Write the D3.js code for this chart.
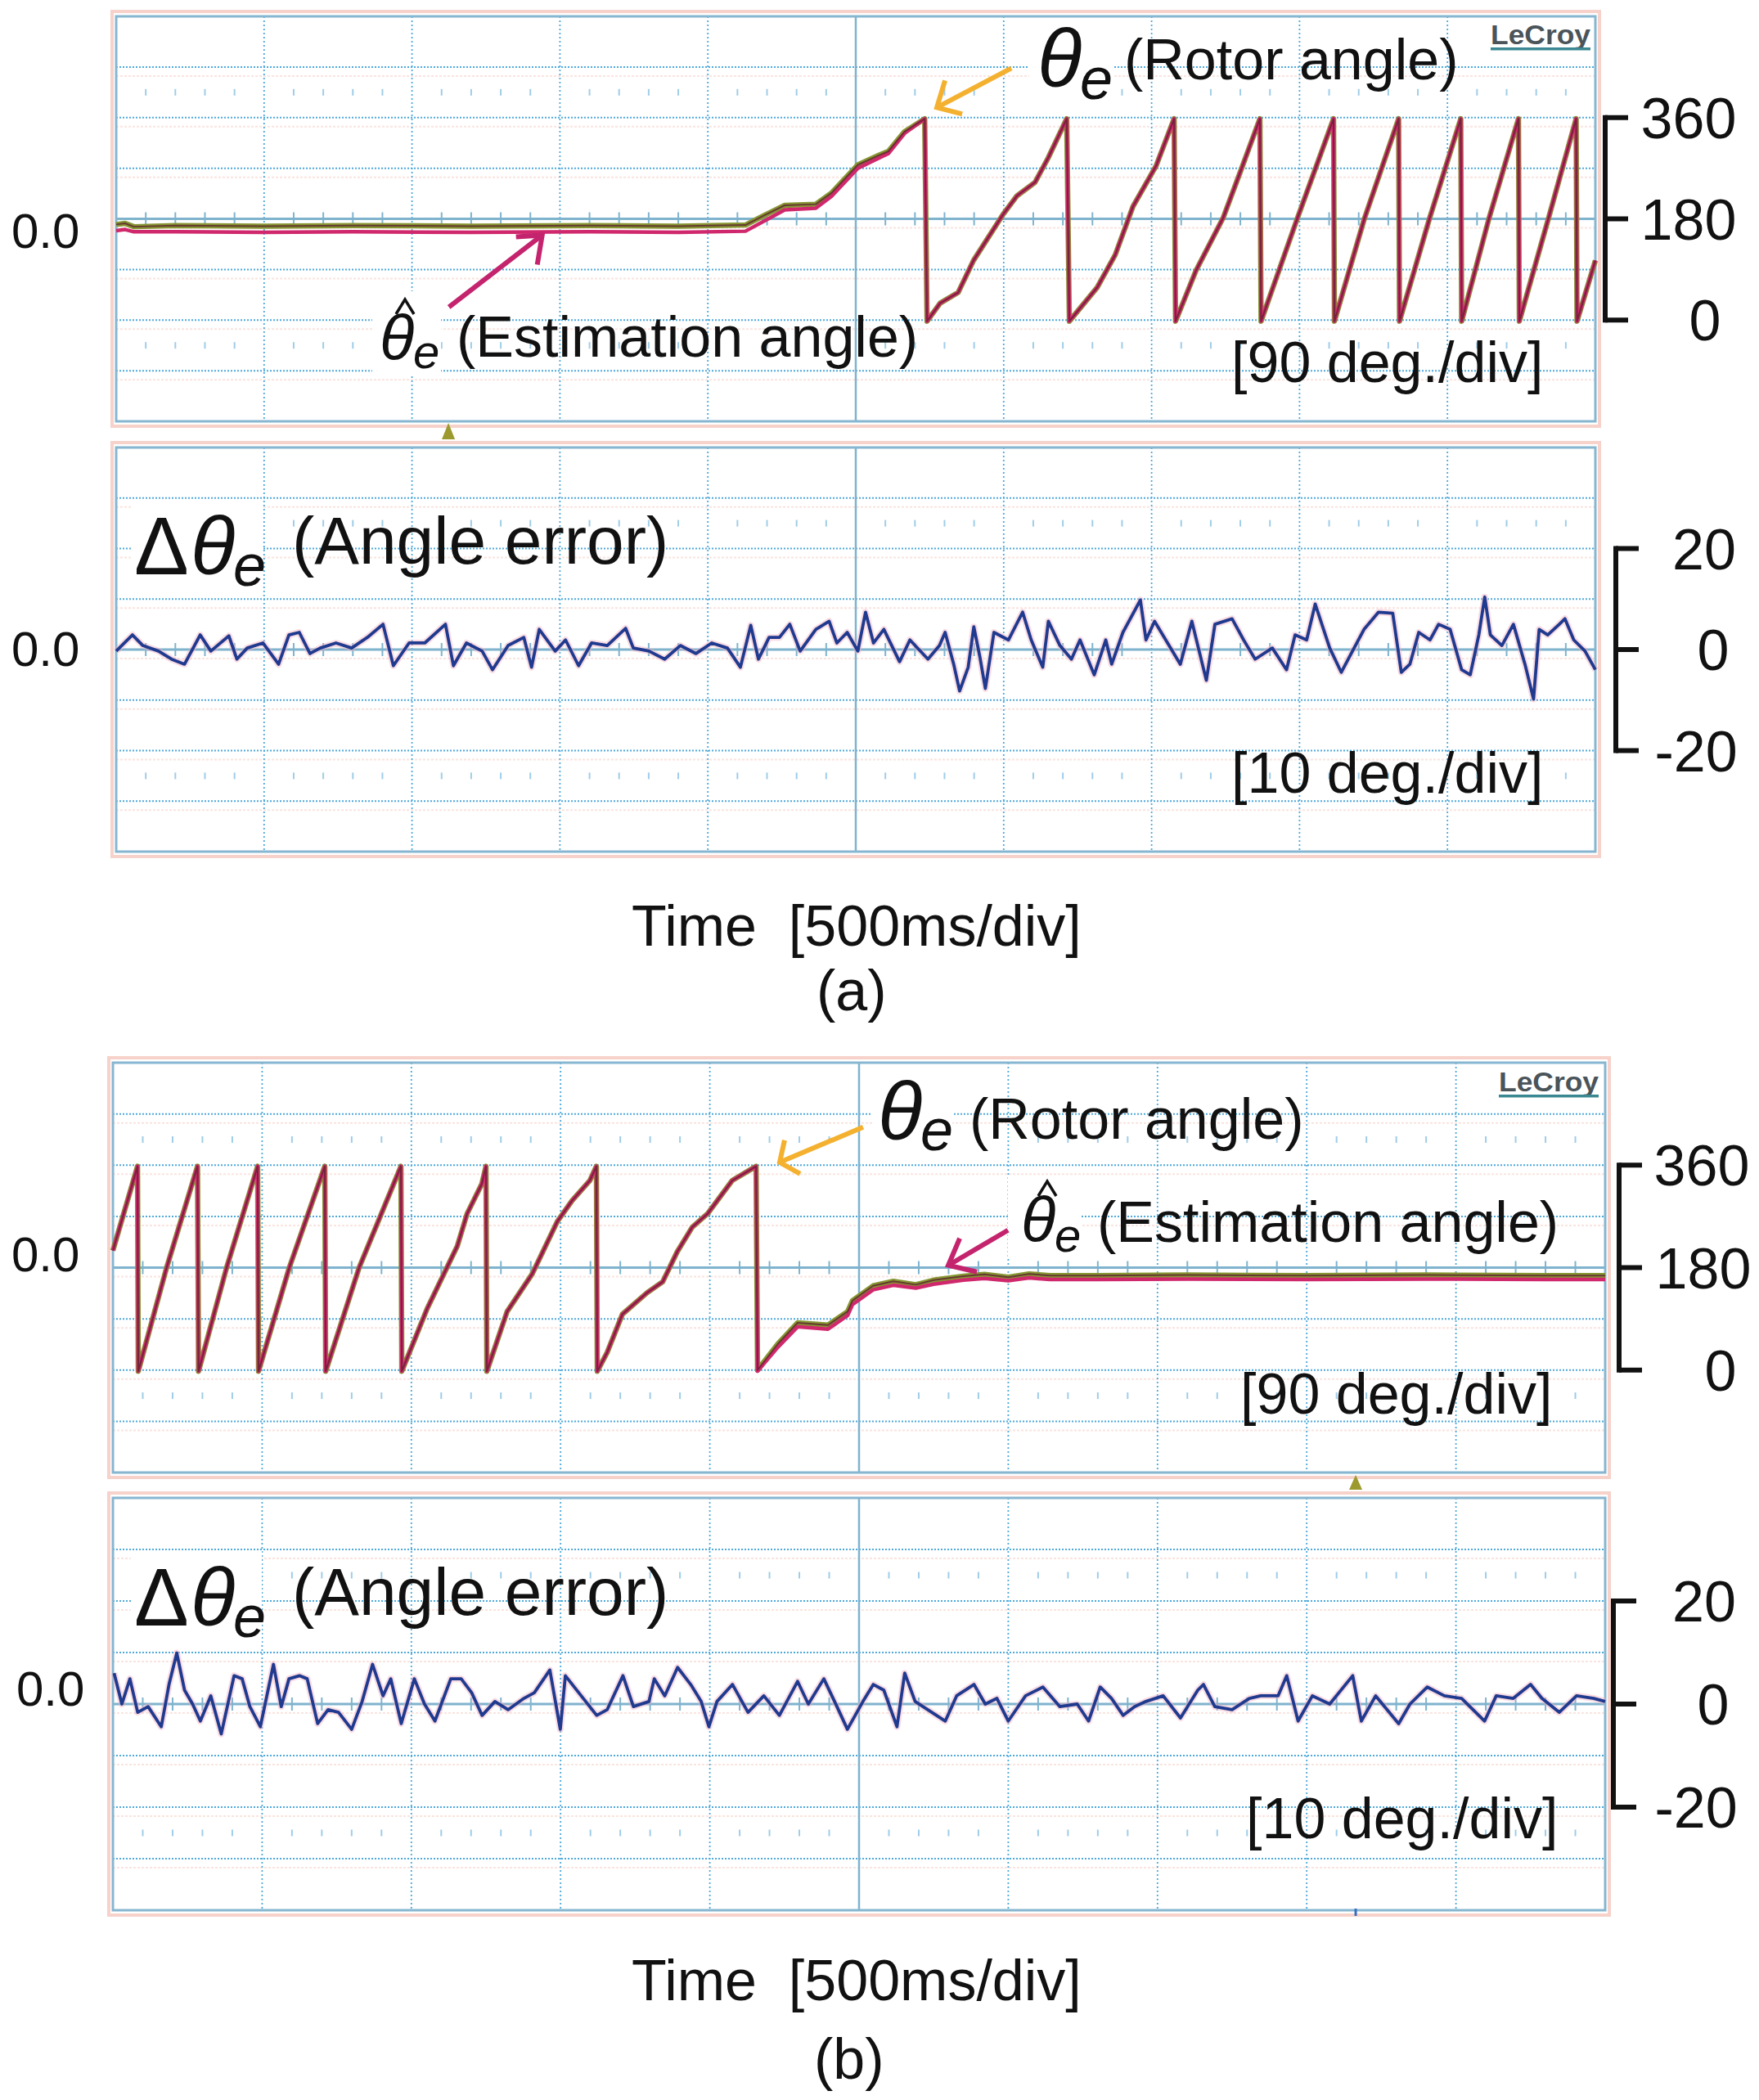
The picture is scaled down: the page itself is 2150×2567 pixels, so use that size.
<!DOCTYPE html>
<html><head><meta charset="utf-8">
<script src="https://cdn.jsdelivr.net/npm/d3@7"></script>
<style>
html,body{margin:0;padding:0;background:#fff;}
svg{display:block;}
text{font-family:"Liberation Sans",Arial,sans-serif;white-space:pre;}
</style></head><body>
<svg id="chart" width="2150" height="2567"></svg>
<script>
// ---------------- DATA ----------------
const timeDomain = [0, 5];            // seconds (500 ms/div x 10 div)
const angleTicks = [0, 180, 360];     // deg, 90 deg/div
const errorTicks = [-20, 0, 20];      // deg, 10 deg/div
const angleDomain = [-180, 540];
const errorDomain = [-40, 40];

// (a) acceleration: slow part (rotor / estimation), then shared sawtooth
const aSlowT   = [0, 0.03, 0.06, 0.2, 0.5, 0.8, 1.2, 1.6, 1.9, 2.127, 2.19, 2.26, 2.365, 2.418, 2.507, 2.578, 2.61, 2.665, 2.733];
const aRotorSlowV = [170, 172, 166, 168, 167, 168, 167, 168, 167, 169, 186, 204, 206, 226, 276, 293, 300, 335, 358];
const aEstSlowV   = [159, 161, 157, 157, 156, 157, 156, 157, 156, 158, 176, 196, 199, 220, 270, 288, 296, 332, 358];
const aSawT = [2.741, 2.785, 2.846, 2.898, 2.998, 3.045, 3.106, 3.150, 3.213,
               3.222, 3.316, 3.377, 3.437, 3.515, 3.576,
               3.581, 3.650, 3.742, 3.803, 3.866,
               3.870, 3.992, 4.115,
               4.118, 4.219, 4.335,
               4.338, 4.439, 4.545,
               4.548, 4.640, 4.740,
               4.743, 4.841, 4.935,
               4.938, 5.000];
const aSawV = [-2, 30, 49, 106, 188, 221, 245, 288, 358,
               -2, 58, 116, 202, 274, 358,
               -2, 88, 182, 268, 358,
               -2, 180, 358,
               -2, 180, 358,
               -2, 180, 358,
               -2, 180, 358,
               -2, 180, 358,
               -2, 106];

// (b) deceleration: shared sawtooth, then slow part
const bSawT = [0, 0.0825, 0.085, 0.180, 0.2835, 0.287, 0.381, 0.485, 0.488, 0.591, 0.71, 0.713, 0.825, 0.965,
               0.968, 1.053, 1.154, 1.187, 1.236, 1.25,
               1.253, 1.321, 1.405, 1.489, 1.539, 1.598, 1.62,
               1.623, 1.656, 1.707, 1.790, 1.842, 1.891, 1.941, 1.993, 2.075, 2.155];
const bSawV = [210, 358, -2, 180, 358, -2, 180, 358, -2, 180, 358, -2, 180, 358,
               -2, 108, 218, 275, 327, 358,
               -2, 103, 169, 261, 298, 333, 358,
               -2, 31, 98, 136, 155, 208, 251, 275, 333, 358];
const bSlowT = [2.16, 2.228, 2.294, 2.396, 2.462, 2.478, 2.547, 2.615, 2.69, 2.75, 2.85, 2.92, 3.0, 3.07, 3.14, 3.3, 3.6, 4.0, 4.4, 4.8, 5.0];
const bRotorSlowV = [0, 46, 83, 79, 103, 122, 148, 156, 150, 158, 165, 168, 163, 169, 166, 166, 167, 166, 167, 166, 166];
const bEstSlowV   = [-2, 40, 76, 72, 96, 115, 141, 149, 144, 151, 158, 161, 157, 162, 159, 159, 160, 159, 160, 159, 159];

// angle error (deg)
const aErrT = [0, 0.055, 0.090, 0.143, 0.187, 0.231, 0.284, 0.320, 0.381, 0.408, 0.443, 0.496, 0.549, 0.584, 0.619, 0.655, 0.690, 0.743, 0.796, 0.849,
  0.902, 0.937, 0.990, 1.043, 1.113, 1.140, 1.184, 1.237, 1.272, 1.325, 1.378, 1.404, 1.430, 1.484, 1.519, 1.563, 1.607, 1.660, 1.722, 1.748,
  1.801, 1.854, 1.907, 1.960, 2.013, 2.066, 2.110, 2.145, 2.171, 2.207, 2.242, 2.277, 2.312, 2.365, 2.410, 2.436, 2.471, 2.507, 2.533, 2.560,
  2.595, 2.648, 2.683,
  2.744, 2.783, 2.802, 2.831, 2.851, 2.880, 2.899, 2.919, 2.938, 2.967, 3.016, 3.064, 3.093, 3.132, 3.151, 3.190, 3.229, 3.258, 3.306, 3.345,
  3.365, 3.403, 3.462, 3.481, 3.510, 3.559, 3.597, 3.636, 3.685, 3.714, 3.772, 3.811, 3.850, 3.908, 3.956, 3.985, 4.024, 4.053, 4.102, 4.141,
  4.179, 4.218, 4.267, 4.315, 4.344, 4.373, 4.403, 4.441, 4.470, 4.509, 4.548, 4.577, 4.606, 4.626, 4.645, 4.684, 4.723, 4.762, 4.791, 4.810,
  4.839, 4.878, 4.897, 4.927, 4.965, 5.000];
const aErrV = [-0.3, 2.9, 0.8, -0.3, -1.9, -2.9, 2.9, -0.3, 2.7, -1.9, 0.3, 1.3, -2.9, 2.9, 3.4, -0.8, 0.3, 1.3, 0.3, 2.4,
  5.0, -3.2, 1.3, 1.3, 5.0, -3.2, 1.3, -0.3, -4.0, 0.8, 2.4, -3.5, 4.0, -0.3, 1.9, -3.2, 1.3, 0.8, 4.2, 0.3,
  -0.3, -1.9, 0.8, -0.8, 1.3, 0.3, -3.5, 4.8, -1.9, 2.4, 2.4, 5.0, -0.3, 4.0, 5.6, 1.3, 3.4, -0.3, 7.4, 1.3,
  4.0, -2.4, 1.9,
  -1.9, 0.8, 3.4, -2.9, -8.2, -3.5, 4.5, -1.3, -7.7, 3.4, 1.9, 7.4, 1.9, -3.5, 5.6, 0.8, -1.9, 1.9, -5.0, 1.9,
  -2.9, 3.4, 9.8, 1.9, 5.6, 0.8, -2.9, 5.6, -6.1, 5.0, 6.1, 1.9, -1.9, 0.3, -4.0, 2.9, 1.9, 9.0, 0.3, -4.5,
  -0.3, 4.0, 7.4, 7.2, -4.5, -2.9, 3.4, 1.9, 5.0, 4.0, -4.0, -5.0, 2.9, 10.4, 2.9, 0.8, 5.0, -2.9, -9.8, 4.0,
  2.9, 5.0, 6.1, 1.9, -0.3, -4.0];
const bErrT = [0.004, 0.030, 0.057, 0.083, 0.118, 0.162, 0.188, 0.214, 0.240, 0.267, 0.293, 0.328, 0.363, 0.406, 0.433, 0.459, 0.494, 0.538, 0.564, 0.590,
  0.625, 0.651, 0.686, 0.721, 0.756, 0.800, 0.835, 0.870, 0.905, 0.931, 0.966, 1.010, 1.044, 1.079, 1.132, 1.167, 1.202, 1.237, 1.280, 1.324,
  1.377, 1.412, 1.464, 1.499, 1.516, 1.569, 1.621, 1.656, 1.709, 1.744, 1.796, 1.814, 1.849, 1.892, 1.936, 1.971, 1.997, 2.024, 2.076, 2.128,
  2.181, 2.233, 2.294, 2.330, 2.382, 2.426, 2.461, 2.513, 2.548, 2.583, 2.627, 2.653, 2.688,
  2.789, 2.827, 2.885, 2.923, 2.962, 3.000, 3.058, 3.116, 3.173, 3.231, 3.269, 3.308, 3.346, 3.385, 3.423, 3.461, 3.519, 3.577, 3.635, 3.654,
  3.692, 3.750, 3.808, 3.846, 3.904, 3.933, 3.971, 4.019, 4.077, 4.154, 4.183, 4.231, 4.308, 4.346, 4.404, 4.461, 4.519, 4.596, 4.635, 4.692,
  4.750, 4.788, 4.846, 4.904, 4.962, 5.000];
const bErrV = [6.0, 0, 4.9, -1.6, -0.5, -4.4, 3.8, 9.9, 2.7, 0, -3.3, 1.6, -5.8, 5.5, 4.9, -0.5, -4.4, 7.7, -0.5, 4.9,
  5.5, 4.9, -3.8, -1.1, -1.6, -4.9, 0.5, 7.7, 1.6, 4.9, -3.8, 4.9, 0, -3.3, 4.9, 4.9, 2.2, -2.2, 0.5, -1.1,
  1.1, 2.2, 6.6, -4.9, 5.5, 1.6, -2.2, -1.1, 5.5, -0.5, 0.5, 4.9, 1.6, 7.1, 3.8, 0.5, -4.4, 0.5, 3.8, -1.6,
  1.6, -2.2, 4.4, 0, 4.9, -0.5, -4.9, 0.5, 3.8, 2.7, -4.4, 6.0, 0.5,
  -3.3, 1.6, 3.8, 0, 1.1, -3.3, 1.6, 3.3, -0.5, 0, -3.3, 3.3, 1.1, -2.2, -0.5, 0.5, 1.6, -2.7, 2.7, 3.8,
  -0.5, -1.1, 1.1, 1.6, 1.6, 5.5, -3.3, 1.6, 0, 5.5, -3.3, 1.6, -3.8, 0, 3.3, 1.6, 1.1, -3.3, 1.6, 1.1,
  3.8, 1.1, -1.6, 1.6, 1.1, 0.5];

const triggerTimeA = 1.123, triggerTimeB = 4.164;

// ---------------- LAYOUT ----------------
const svg = d3.select('#chart');
svg.append('rect').attr('width', 2150).attr('height', 2567).attr('fill', '#fff');

const P = {
  aTop: {x0: 142, x1: 1950, y0: 20,   y1: 515},
  aBot: {x0: 142, x1: 1950, y0: 547,  y1: 1041},
  bTop: {x0: 138, x1: 1962, y0: 1299, y1: 1800},
  bBot: {x0: 138, x1: 1962, y0: 1831, y1: 2335}
};
for (const k in P) {
  const p = P[k];
  p.x = d3.scaleLinear().domain(timeDomain).range([p.x0, p.x1]);
  p.xd = d3.scaleLinear().domain([0, 10]).range([p.x0, p.x1]);
  p.yd = d3.scaleLinear().domain([0, 8]).range([p.y0, p.y1]);
}
P.aTop.y = d3.scaleLinear().domain(angleDomain).range([P.aTop.y1, P.aTop.y0]);
P.bTop.y = d3.scaleLinear().domain(angleDomain).range([P.bTop.y1, P.bTop.y0]);
P.aBot.y = d3.scaleLinear().domain(errorDomain).range([P.aBot.y1, P.aBot.y0]);
P.bBot.y = d3.scaleLinear().domain(errorDomain).range([P.bBot.y1, P.bBot.y0]);

const gridBlue = '#4fa9da', centerBlue = '#7fb3cd', borderBlue = '#86b6d0', pinkHalo = '#f6d2ca';

function drawGrid(p) {
  const g = svg.append('g');
  g.append('rect').attr('x', p.x0 - 5).attr('y', p.y0 - 6).attr('width', p.x1 - p.x0 + 10).attr('height', p.y1 - p.y0 + 12)
    .attr('fill', 'none').attr('stroke', pinkHalo).attr('stroke-width', 4);
  d3.range(1, 8).forEach(i => {
    g.append('line').attr('x1', p.x0).attr('x2', p.x1).attr('y1', p.yd(i) + 11).attr('y2', p.yd(i) + 11)
      .attr('stroke', '#fae4df').attr('stroke-width', 2).attr('stroke-dasharray', '3,2');
  });
  d3.range(1, 10).filter(i => i !== 5).forEach(i => {
    g.append('line').attr('x1', p.xd(i)).attr('x2', p.xd(i)).attr('y1', p.y0).attr('y2', p.y1)
      .attr('stroke', gridBlue).attr('stroke-width', 1.8).attr('stroke-dasharray', '2,3');
  });
  d3.range(1, 8).filter(i => i !== 4).forEach(i => {
    g.append('line').attr('x1', p.x0).attr('x2', p.x1).attr('y1', p.yd(i)).attr('y2', p.yd(i))
      .attr('stroke', gridBlue).attr('stroke-width', 2).attr('stroke-dasharray', '2,2');
  });
  [1.5, 6.5].forEach(r => {
    d3.range(1, 50).filter(k => k % 5 !== 0).forEach(k => {
      g.append('line').attr('x1', p.xd(k / 5)).attr('x2', p.xd(k / 5)).attr('y1', p.yd(r) - 4).attr('y2', p.yd(r) + 4)
        .attr('stroke', '#9fcde8').attr('stroke-width', 2);
    });
  });
  g.append('line').attr('x1', p.x0).attr('x2', p.x1).attr('y1', p.yd(4)).attr('y2', p.yd(4))
    .attr('stroke', centerBlue).attr('stroke-width', 3);
  g.append('line').attr('x1', p.xd(5)).attr('x2', p.xd(5)).attr('y1', p.y0).attr('y2', p.y1)
    .attr('stroke', centerBlue).attr('stroke-width', 2.5);
  d3.range(1, 50).filter(k => k % 5 !== 0).forEach(k => {
    g.append('line').attr('x1', p.xd(k / 5)).attr('x2', p.xd(k / 5)).attr('y1', p.yd(4) - 8).attr('y2', p.yd(4) + 8)
      .attr('stroke', centerBlue).attr('stroke-width', 2);
  });
  g.append('rect').attr('x', p.x0).attr('y', p.y0).attr('width', p.x1 - p.x0).attr('height', p.y1 - p.y0)
    .attr('fill', 'none').attr('stroke', borderBlue).attr('stroke-width', 3);
}
Object.values(P).forEach(drawGrid);

function patch(x, y, w, h) { svg.append('rect').attr('x', x).attr('y', y).attr('width', w).attr('height', h).attr('fill', '#fff'); }
patch(1258, 28, 102, 100);
patch(455, 356, 84, 104);
patch(160, 610, 160, 115);
patch(1066, 1308, 98, 104);
patch(1232, 1438, 90, 100);
patch(160, 1895, 160, 115);

// ---------------- TRACES ----------------
function zipPts(T, V) { const n = Math.min(T.length, V.length); return d3.range(n).map(i => [T[i], V[i]]); }

function drawAngle(p, rotor, est) {
  const line = d3.line().x(d => p.x(d[0])).y(d => p.y(d[1]));
  const g = svg.append('g').attr('stroke-linejoin', 'round').attr('fill', 'none');
  g.append('path').attr('d', line(rotor)).attr('stroke', '#869632').attr('stroke-width', 6.5);
  g.append('path').attr('d', line(est)).attr('stroke', '#d0286c').attr('stroke-width', 4.5);
  g.append('path').attr('d', line(rotor)).attr('stroke', '#5e2230').attr('stroke-width', 2).attr('opacity', 0.8);
}
function drawError(p, pts) {
  const line = d3.line().x(d => p.x(d[0])).y(d => p.y(d[1]));
  const g = svg.append('g').attr('stroke-linejoin', 'round').attr('fill', 'none');
  g.append('path').attr('d', line(pts)).attr('stroke', '#f1b0c0').attr('stroke-width', 8).attr('opacity', 0.45);
  g.append('path').attr('d', line(pts)).attr('stroke', '#1f3a8f').attr('stroke-width', 3.8);
}

const aSaw = zipPts(aSawT, aSawV), bSaw = zipPts(bSawT, bSawV);
drawAngle(P.aTop, zipPts(aSlowT, aRotorSlowV).concat(aSaw), zipPts(aSlowT, aEstSlowV).concat(aSaw));
drawAngle(P.bTop, bSaw.concat(zipPts(bSlowT, bRotorSlowV)), bSaw.concat(zipPts(bSlowT, bEstSlowV)));
drawError(P.aBot, zipPts(aErrT, aErrV));
drawError(P.bBot, zipPts(bErrT, bErrV));

function trig(p, t, yb, h) {
  const x = p.x(t);
  svg.append('path').attr('d', `M${x - 8},${yb} L${x},${yb - h} L${x + 8},${yb} Z`).attr('fill', '#9c9a2e');
}
trig(P.aTop, triggerTimeA, 537, 20);
trig(P.bTop, triggerTimeB, 1821, 18);
svg.append('line').attr('x1', P.bBot.x(triggerTimeB)).attr('x2', P.bBot.x(triggerTimeB)).attr('y1', 2333).attr('y2', 2342)
  .attr('stroke', '#3a6fc0').attr('stroke-width', 3);

// ---------------- TEXT ----------------
function txt(x, y, s, size, o = {}) {
  const t = svg.append('text').attr('x', x).attr('y', y).attr('font-size', size).attr('fill', o.fill || '#111').text(s);
  if (o.anchor) t.attr('text-anchor', o.anchor);
  if (o.family) t.attr('font-family', o.family);
  if (o.italic) t.attr('font-style', 'italic');
  if (o.bold) t.attr('font-weight', 'bold');
  if (o.width) t.attr('textLength', o.width).attr('lengthAdjust', 'spacingAndGlyphs');
  return t;
}
const SERIF = '"Liberation Serif","DejaVu Serif",serif';

function lecroy(x, y) {
  txt(x, y, 'LeCroy', 34, {bold: true, width: 122, fill: '#4a5459'});
  svg.append('rect').attr('x', x).attr('y', y + 4).attr('width', 122).attr('height', 3.5).attr('fill', '#3a8791');
}
lecroy(1822, 54);
lecroy(1832, 1334);

txt(14, 303, '0.0', 60);
txt(14, 814, '0.0', 60);
txt(14, 1554, '0.0', 60);
txt(20, 2085, '0.0', 60);

function bracket(p, ticks, xv, labelX) {
  const g = svg.append('g');
  const ys = ticks.map(v => p.y(v));
  g.append('line').attr('x1', xv).attr('x2', xv).attr('y1', d3.min(ys) - 3).attr('y2', d3.max(ys) + 3)
    .attr('stroke', '#111').attr('stroke-width', 6);
  ticks.forEach((v, i) => {
    g.append('line').attr('x1', xv).attr('x2', xv + 28).attr('y1', p.y(v)).attr('y2', p.y(v))
      .attr('stroke', '#111').attr('stroke-width', 6);
    txt(labelX[i], p.y(v) + 25, String(v), 70, {anchor: 'middle'});
  });
}
bracket(P.aTop, angleTicks, 1962, [2084, 2064, 2064]);
bracket(P.aBot, errorTicks, 1975, [2073, 2094, 2083]);
bracket(P.bTop, angleTicks, 1979, [2103, 2082, 2080]);
bracket(P.bBot, errorTicks, 1972, [2073, 2094, 2083]);

txt(1505, 467, '[90 deg./div]', 70);
txt(1505, 969, '[10 deg./div]', 70);
txt(1516, 1728, '[90 deg./div]', 70);
txt(1523, 2247, '[10 deg./div]', 70);

function theta(x, y, size, subSize, subDx, subDy, hat) {
  txt(x, y, 'θ', size, {family: SERIF, italic: true});
  txt(x + subDx, y + subDy, 'e', subSize, {family: SERIF, italic: true});
  if (hat) {
    svg.append('path').attr('d', `M${hat[0] - 11},${hat[1] + 18} L${hat[0]},${hat[1]} L${hat[0] + 11},${hat[1] + 18}`)
      .attr('fill', 'none').attr('stroke', '#111').attr('stroke-width', 3.5);
  }
}
theta(1268, 106, 100, 72, 52, 15);
txt(1374, 97, '(Rotor angle)', 70);
theta(464, 440, 78, 58, 41, 10, [495, 366]);
txt(558, 436, '(Estimation angle)', 70);
txt(164, 702, 'Δ', 100, {family: SERIF});
theta(233, 702, 100, 72, 52, 14);
txt(357, 689, '(Angle error)', 82);
theta(1073, 1393, 100, 72, 52, 13);
txt(1185, 1392, '(Rotor angle)', 70);
theta(1248, 1518, 78, 58, 41, 12, [1280, 1444]);
txt(1341, 1518, '(Estimation angle)', 70);
txt(164, 1987, 'Δ', 100, {family: SERIF});
theta(233, 1987, 100, 72, 52, 14);
txt(357, 1974, '(Angle error)', 82);

function arrow(p, t, v, tail, arm1, arm2, color) {
  const x = p.x(t), y = p.y(v);
  const g = svg.append('g').attr('stroke', color).attr('stroke-width', 6).attr('fill', 'none').attr('stroke-linecap', 'butt');
  g.append('line').attr('x1', x + tail[0]).attr('y1', y + tail[1]).attr('x2', x).attr('y2', y);
  g.append('path').attr('d', `M${x + arm1[0]},${y + arm1[1]} L${x},${y} L${x + arm2[0]},${y + arm2[1]}`);
}
arrow(P.aTop, 2.774, 378, [91, -48], [10, -33], [31, 8], '#f4b130');
arrow(P.aTop, 1.44, 151, [-114, 88], [-32, 2], [-6, 36], '#c4246e');
arrow(P.bTop, 2.234, 365, [102, -43], [6, -27], [25, 14], '#f4b130');
arrow(P.bTop, 2.799, 184, [73, -43], [14, -33], [35, 8], '#c4246e');

txt(772, 1156, 'Time  [500ms/div]', 70);
txt(998, 1235, '(a)', 70);
txt(772, 2445, 'Time  [500ms/div]', 70);
txt(995, 2541, '(b)', 70);
</script>
</body></html>
